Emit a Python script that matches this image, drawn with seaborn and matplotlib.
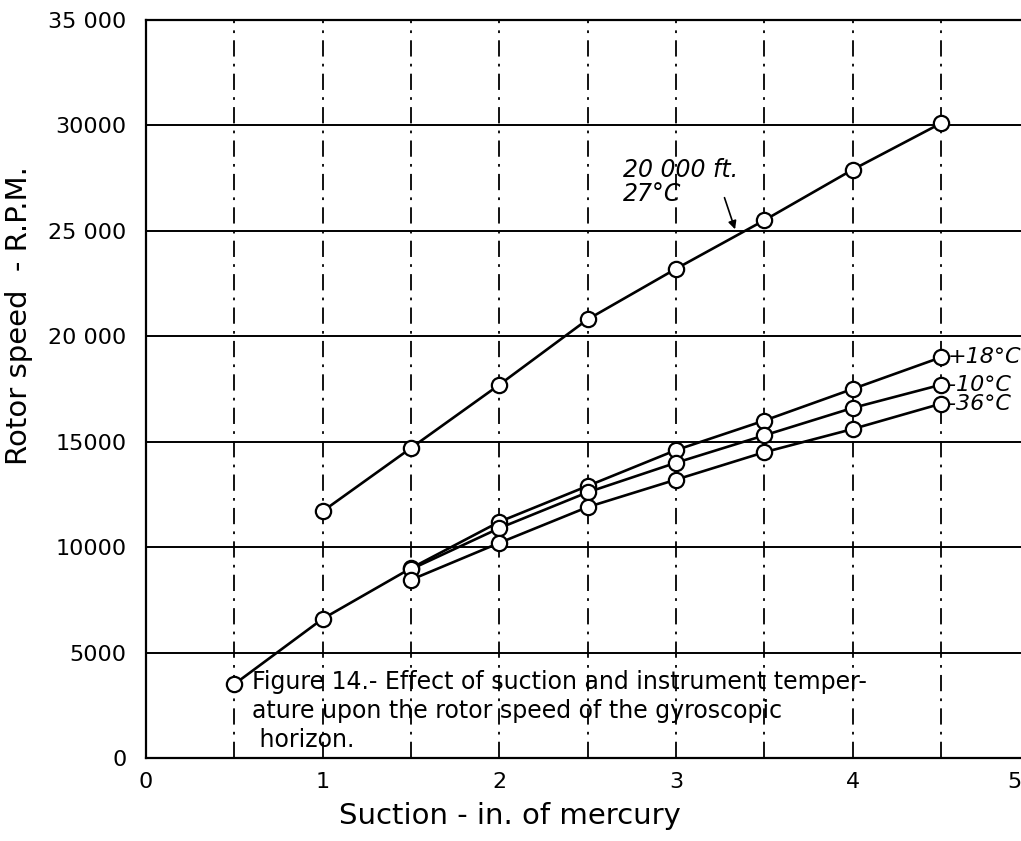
import numpy as np
import pandas as pd
import seaborn as sns
import matplotlib.pyplot as plt
import matplotlib.transforms as mtrans

sns.set_theme(style="white")
plt.rcParams['font.family'] = ['DejaVu Sans']
plt.rcParams['text.color'] = 'black'
plt.rcParams['axes.labelcolor'] = 'black'

# readings
suction_top = [1, 1.5, 2, 2.5, 3, 3.5, 4, 4.5]
rpm_20000ft = [11700, 14700, 17700, 20800, 23200, 25500, 27900, 30100]

suction_low = [0.5, 1, 1.5, 2, 2.5, 3, 3.5, 4, 4.5]
rpm_plus18 = [3500, 6600, 9000, 11200, 12900, 14600, 16000, 17500, 19000]

suction_mid = [1.5, 2, 2.5, 3, 3.5, 4, 4.5]
rpm_minus10 = [8950, 10900, 12600, 14000, 15300, 16600, 17700]
rpm_minus36 = [8450, 10200, 11900, 13200, 14500, 15600, 16800]

end_labels = ["+18°C", "-10°C", "-36°C"]
y_ticks = [0, 5000, 10000, 15000, 20000, 25000, 30000, 35000]
y_ticklabels = ["0", "5000", "10000", "15000", "20 000", "25 000", "30000", "35 000"]
x_ticks = [0, 1, 2, 3, 4, 5]

fig = plt.figure(figsize=(10.21, 8.41), dpi=100)
ax = fig.add_axes([0.143, 0.0987, 0.865, 0.8775])

line_kw = dict(color="black", linewidth=1.9, marker="o", markersize=11,
               markerfacecolor="white", markeredgecolor="black",
               markeredgewidth=1.6, estimator=None, sort=False, ax=ax, zorder=3)

sns.lineplot(x=suction_top, y=rpm_20000ft, **line_kw)
sns.lineplot(x=suction_low, y=rpm_plus18, **line_kw)
sns.lineplot(x=suction_mid, y=rpm_minus10, **line_kw)
sns.lineplot(x=suction_mid, y=rpm_minus36, **line_kw)

ax.set_xlim(0, 5)
ax.set_ylim(0, 35000)
ax.set_xticks(x_ticks)
ax.set_xticklabels([str(t) for t in x_ticks])
ax.set_xticks(np.arange(0.5, 5, 0.5), minor=True)
ax.set_yticks(y_ticks)
ax.set_yticklabels(y_ticklabels)
ax.tick_params(axis="both", which="both", length=0, labelsize=16, colors="black")
ax.tick_params(axis="y", pad=14)
ax.tick_params(axis="x", pad=10)
# the "5" sits at the right edge of the page; nudge it inside
last = ax.get_xticklabels()[-1]
last.set_transform(last.get_transform() +
                   mtrans.ScaledTranslation(-0.15, 0, fig.dpi_scale_trans))

ax.grid(axis="y", color="black", linewidth=1.4, linestyle="-")
ax.grid(axis="x", which="both", color="black", linewidth=1.3,
        linestyle=(0, (9, 4, 1.5, 4)))
for side in ["top", "bottom", "left", "right"]:
    ax.spines[side].set_color("black")
    ax.spines[side].set_linewidth(1.6)

ax.set_xlabel("Suction - in. of mercury", fontsize=21)
ax.set_ylabel("Rotor speed  - R.P.M.", fontsize=21)
ax.xaxis.set_label_coords(0.412, -0.06)
ax.yaxis.set_label_coords(-0.128, 0.6)

# curve labels at the right end
for lab, yv in zip(end_labels, [rpm_plus18[-1], rpm_minus10[-1], rpm_minus36[-1]]):
    ax.text(4.54, yv, lab, fontsize=16, style="italic", va="center", ha="left")

ax.text(2.7, 26200, "20 000 ft.\n27°C", fontsize=17, style="italic",
        va="bottom", ha="left", linespacing=1.0)
ax.annotate("", xy=(3.34, 24950), xytext=(3.27, 26700),
            arrowprops=dict(arrowstyle="-|>", color="black", lw=1.2))

ax.text(0.6, 4150,
        "Figure 14.- Effect of suction and instrument temper-\n"
        "ature upon the rotor speed of the gyroscopic\n"
        " horizon.",
        fontsize=17, va="top", ha="left", linespacing=1.25)

plt.savefig("out.png", dpi=100)
